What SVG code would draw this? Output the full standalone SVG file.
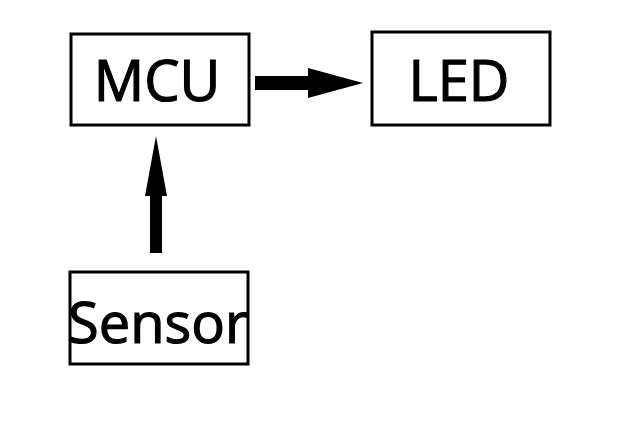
<svg xmlns="http://www.w3.org/2000/svg" width="625" height="432" viewBox="0 0 625 432">
<style>
.box{fill:#fff;stroke:#000;stroke-width:3}
.lbl{font-family:"Open Sans","Noto Sans",sans-serif;font-size:56px;fill:#000;stroke:#000;stroke-width:1.2;text-anchor:middle}
.conn{fill:#000;stroke:none}
</style>
<rect width="625" height="432" fill="#fff"/>
<g id="MCU"><rect class="box" x="71" y="34" width="178" height="91"/><text class="lbl" x="157" y="101">MCU</text></g>
<g id="LED"><rect class="box" x="372" y="32" width="178" height="93"/><text class="lbl" x="459" y="101">LED</text></g>
<g id="Sensor"><rect class="box" x="70" y="272" width="178" height="92"/><text class="lbl" x="158" y="343">Sensor</text></g>
<g id="connectors">
<path class="conn" d="M255,76 H308 V68 L363,83 L308,98 V90 H255 Z"/>
<path class="conn" d="M150,253 V196 H145 L156,136 L167,196 H162 V253 Z"/>
</g>
</svg>
